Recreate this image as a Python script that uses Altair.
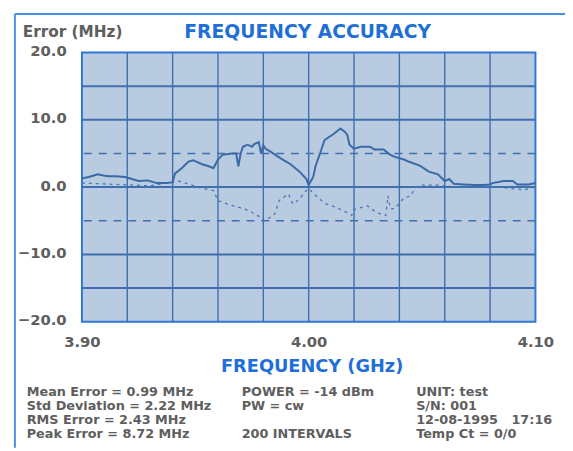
import altair as alt
import pandas as pd

# ---------------- data ----------------
upper_freq = [3.900, 3.903, 3.907, 3.910, 3.912, 3.915, 3.919, 3.922, 3.925, 3.929,
              3.933, 3.937, 3.940, 3.941, 3.944, 3.947, 3.949, 3.953, 3.956, 3.958,
              3.960, 3.962, 3.966, 3.968, 3.969, 3.970, 3.971, 3.973, 3.975, 3.976,
              3.978, 3.979, 3.980, 3.981, 3.983, 3.988, 3.992, 3.996, 3.999, 4.000,
              4.002, 4.003, 4.005, 4.007, 4.011, 4.014, 4.016, 4.017, 4.018, 4.020,
              4.023, 4.027, 4.029, 4.033, 4.036, 4.038, 4.042, 4.044, 4.049, 4.053,
              4.057, 4.060, 4.062, 4.064, 4.068, 4.073, 4.077, 4.080, 4.081, 4.086,
              4.090, 4.092, 4.097, 4.100]
upper_err = [1.3, 1.5, 1.9, 1.7, 1.6, 1.6, 1.5, 1.2, 0.9, 1.0,
             0.6, 0.6, 0.7, 2.0, 2.8, 3.8, 4.0, 3.4, 3.1, 2.8,
             4.1, 4.8, 5.0, 5.0, 3.1, 5.0, 6.0, 6.3, 6.0, 6.4,
             6.7, 5.0, 6.2, 5.7, 5.3, 4.2, 3.4, 2.3, 1.2, 0.3,
             1.5, 3.1, 5.0, 7.0, 7.9, 8.7, 8.2, 7.8, 6.3, 5.7,
             6.0, 6.0, 5.6, 5.6, 4.8, 4.5, 4.1, 3.8, 3.2, 2.3,
             1.9, 0.9, 1.2, 0.5, 0.4, 0.3, 0.3, 0.4, 0.6, 0.9,
             0.9, 0.4, 0.4, 0.6]

lower_freq = [3.900, 3.915, 3.930, 3.943, 3.952, 3.958, 3.960, 3.964, 3.970, 3.974,
              3.976, 3.979, 3.980, 3.983, 3.985, 3.987, 3.991, 3.993, 3.996, 3.998,
              4.000, 4.002, 4.005, 4.007, 4.012, 4.017, 4.019, 4.020, 4.026, 4.030,
              4.034, 4.035, 4.036, 4.038, 4.042, 4.045, 4.047, 4.050, 4.057, 4.065,
              4.080, 4.095, 4.100]
lower_err = [0.6, 0.4, 0.2, 0.9, -0.1, -0.5, -2.0, -2.5, -3.1, -3.5,
             -4.0, -4.5, -5.0, -4.5, -4.0, -2.0, -1.0, -2.5, -1.8, -0.8,
             -0.2, -0.9, -1.8, -2.4, -3.0, -3.8, -4.2, -3.3, -2.8, -3.8,
             -4.2, -1.3, -3.2, -3.2, -1.6, -1.3, -0.1, 0.3, 0.3, 0.0,
             0.1, -0.4, 0.0]

x_ticks = [3.90, 4.00, 4.10]
y_ticks = [-20, -10, 0, 10, 20]
v_grid = [3.92, 3.94, 3.96, 3.98, 4.00, 4.02, 4.04, 4.06, 4.08]
h_grid_solid = [-15, -10, 0, 10, 15]
h_grid_dashed = [-5, 5]

chart_title = "FREQUENCY ACCURACY"
y_title = "Error (MHz)"
x_title = "FREQUENCY (GHz)"
stats_col1 = ["Mean Error = 0.99 MHz", "Std Deviation = 2.22 MHz",
              "RMS Error = 2.43 MHz", "Peak Error = 8.72 MHz"]
stats_col2 = ["POWER = -14 dBm", "PW = cw", "", "200 INTERVALS"]
stats_col3 = ["UNIT: test", "S/N: 001", "12-08-1995", "Temp Ct = 0/0"]
stats_time = "17:16"

# ---------------- styling ----------------
FONT = "DejaVu Sans"
GRAY = "#5e5e5e"
BLUE_TXT = "#1f6fd6"
GRID = "#3f6fae"
LINE = "#3b69a6"
FRAME = "#4a90e0"

xs = alt.Scale(domain=[3.90, 4.10], nice=False, zero=False)
ys = alt.Scale(domain=[-20, 20], nice=False, zero=False)

x_axis = alt.Axis(values=x_ticks, format=".2f", grid=False, domain=False,
                  ticks=False, tickSize=0, labelPadding=20,
                  labelBaseline="middle", labelFlush=False,
                  labelFont=FONT, labelFontSize=15, labelFontWeight="bold",
                  labelColor=GRAY,
                  title=x_title, titleFont=FONT, titleFontSize=18,
                  titleFontWeight="bold", titleColor=BLUE_TXT,
                  titleX=233, titleY=46, titleBaseline="middle",
                  titleAlign="center")
y_axis = alt.Axis(values=y_ticks, format=".1f", grid=False, domain=False,
                  ticks=False, tickSize=0, labelPadding=16, labelOffset=-2,
                  labelFlush=False, labelOverlap=False,
                  labelFont=FONT, labelFontSize=15, labelFontWeight="bold",
                  labelColor=GRAY, title=None)

upper_df = pd.DataFrame({"freq": upper_freq, "err": upper_err})
lower_df = pd.DataFrame({"freq": lower_freq, "err": lower_err})
one = pd.DataFrame({"d": [0]})

vgrid = alt.Chart(pd.DataFrame({"freq": v_grid})).mark_rule(
    color=GRID, strokeWidth=1.4).encode(
    x=alt.X("freq:Q", scale=xs, axis=x_axis))
hgrid = alt.Chart(pd.DataFrame({"err": h_grid_solid})).mark_rule(
    color=GRID, strokeWidth=2).encode(
    y=alt.Y("err:Q", scale=ys, axis=y_axis))
hdash = alt.Chart(pd.DataFrame({"err": h_grid_dashed})).mark_rule(
    color=GRID, strokeWidth=1.6, strokeDash=[8, 7]).encode(
    y=alt.Y("err:Q", scale=ys, axis=y_axis))

lower = alt.Chart(lower_df).mark_line(
    color="#4a77b2", strokeWidth=1.3, strokeDash=[3, 4]).encode(
    x=alt.X("freq:Q", scale=xs, axis=x_axis),
    y=alt.Y("err:Q", scale=ys, axis=y_axis))

upper = alt.Chart(upper_df).mark_line(color=LINE, strokeWidth=2).encode(
    x=alt.X("freq:Q", scale=xs, axis=x_axis),
    y=alt.Y("err:Q", scale=ys, axis=y_axis))

layers = [vgrid, hgrid, hdash, lower, upper]


def txt(s, x, y, size=13, color=GRAY, weight="bold", align="left"):
    return alt.Chart(one).mark_text(
        text=s, font=FONT, fontSize=size, color=color, fontWeight=weight,
        align=align, baseline="middle").encode(x=alt.value(x), y=alt.value(y))


layers.append(txt(y_title, -60, -21, size=15.5))
layers.append(txt(chart_title, 229, -21, size=19, color=BLUE_TXT,
                  align="center"))

row_y = [344.5, 358.7, 372.9, 387.1]
for col, cx in ((stats_col1, -56), (stats_col2, 162), (stats_col3, 339)):
    for s, ry in zip(col, row_y):
        if s:
            layers.append(txt(s, cx, ry))
layers.append(txt(stats_time, 477, row_y[2], align="right"))

# outer frame (top and left edges)
layers.append(alt.Chart(one).mark_rule(color=FRAME, strokeWidth=2).encode(
    x=alt.value(-68), x2=alt.value(490), y=alt.value(-39)))
layers.append(alt.Chart(one).mark_rule(color=FRAME, strokeWidth=2).encode(
    x=alt.value(-68), y=alt.value(-39), y2=alt.value(401)))

chart = alt.layer(*layers).properties(
    width=460, height=273,
    padding={"left": 75, "top": 42, "right": 30, "bottom": 128},
    autosize=alt.AutoSizeParams(type="none"),
    background="white",
).configure_view(fill="#b9cbe0", stroke="#2e78d8", strokeWidth=2)

chart.save("out.html", embed_options={"renderer": "svg", "actions": False})
